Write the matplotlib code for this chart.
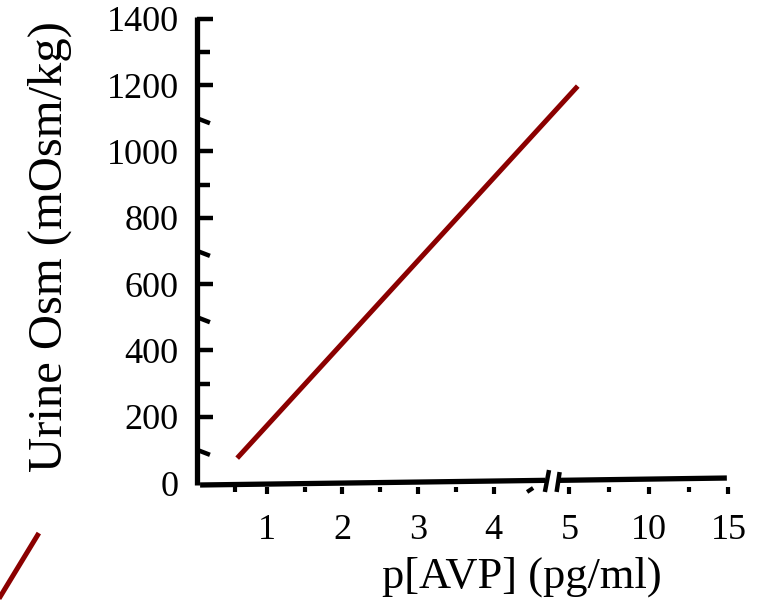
import numpy as np
import matplotlib
matplotlib.use("Agg")
import matplotlib.pyplot as plt

plt.rcParams['font.family'] = ['Liberation Serif', 'DejaVu Serif']

# ---- data ----
avp_line = [0.61, 5.52]          # p[AVP] (pg/ml)
osm_line = [75, 1197]            # Urine Osm (mOsm/kg)
stray_x = [-2.01, -2.62]
stray_y = [-151, -380]

ytick_vals = [0, 200, 400, 600, 800, 1000, 1200, 1400]
ytick_labels = ['0', '200', '400', '600', '800', '1000', '1200', '1400']
ytick_marks_major = [200, 400, 600, 800, 1000, 1200, 1400]
ytick_marks_minor = [100, 300, 500, 700, 900, 1100, 1300]
ytick_tilted = [100, 500, 700, 1100]

xtick_vals = [1, 2, 3, 4, 5, 10, 15]
xtick_labels = ['1', '2', '3', '4', '5', '10', '15']
xtick_marks_major = [1, 2, 3, 4, 5, 10, 15]
xtick_marks_minor = [0.58, 1.5, 2.5, 3.5, 7.5, 12.5]
xtick_tilted = [4.5]

K = 0.21  # compression factor above the axis break
def fwd(x):
    x = np.asarray(x, dtype=float)
    return np.where(x <= 5, x, 5 + (x - 5) * K)
def inv(p):
    p = np.asarray(p, dtype=float)
    return np.where(p <= 5, p, 5 + (p - 5) / K)

W, H = 759, 610
fig = plt.figure(figsize=(W / 100, H / 100), dpi=100)
L, R, B, T = 191, 741, 483, 18.8
ax = fig.add_axes([L / W, (H - B) / H, (R - L) / W, (B - T) / H])
ax.set_xscale('function', functions=(fwd, inv))
ax.set_xlim(0, float(inv(7.266)))
ax.set_ylim(0, 1400)
for s in ax.spines.values():
    s.set_visible(False)

ax.set_yticks(ytick_vals, ytick_labels)
ax.set_xticks(xtick_vals, xtick_labels)
ax.tick_params(axis='y', length=0, pad=9, labelsize=26)
ax.tick_params(axis='x', length=0, pad=22, labelsize=26)
ax.xaxis.set_minor_locator(matplotlib.ticker.NullLocator())

ax.set_ylabel('Urine Osm (mOsm/kg)', fontsize=35)
ax.yaxis.set_label_coords(-0.216, 0.51)
ax.set_xlabel('p[AVP] (pg/ml)', fontsize=32)
ax.xaxis.set_label_coords(0.602, -0.158)

k = dict(color='black', clip_on=False, solid_capstyle='butt')
# y axis line
ax.plot([0.08, 0.08], [-6, 1404], lw=3.8, **k)
# y tick marks
for v in ytick_marks_major:
    ax.plot([0.08, 0.29], [v, v], lw=3.2, **k)
for v in ytick_marks_minor:
    dy = -15 if v in ytick_tilted else 0
    ax.plot([0.08, 0.25], [v, v + dy], lw=3.2, **k)

# x axis line (with break)
ax.plot([0.12, 4.68], [-6, 8], lw=3.8, **k)
ax.plot([4.86, 14.9], [8, 15], lw=3.8, **k)
# break marks
ax.plot([4.675, 4.73], [-27, 39], lw=3.2, **k)
ax.plot([4.83, 4.87], [-27, 33], lw=3.2, **k)
# x tick marks
for v in xtick_marks_major:
    ax.plot([v, v], [-12, -32], lw=3.0, **k)
for v in xtick_marks_minor:
    ax.plot([v, v], [-12, -27], lw=3.0, **k)
for v in xtick_tilted:
    ax.plot([4.44, 4.52], [-27, -15], lw=3.0, **k)

# data line
ax.plot(avp_line, osm_line, color='#8b0000', lw=3.6, clip_on=False, solid_capstyle='butt')
ax.plot(stray_x, stray_y, color='#8b0000', lw=3.6, clip_on=False, solid_capstyle='butt')

fig.savefig('out.png', dpi=100)
